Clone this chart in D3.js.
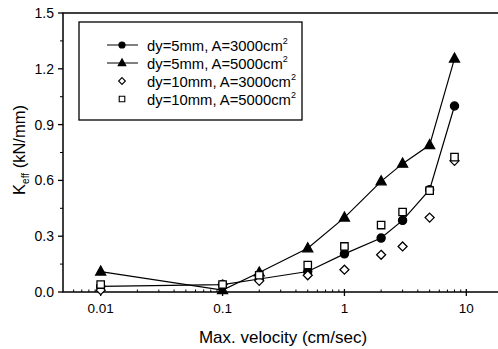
<!DOCTYPE html>
<html>
<head>
<meta charset="utf-8">
<script src="https://cdn.jsdelivr.net/npm/d3@7"></script>
<style>
  body { margin: 0; background: #fff; }
  text { font-family: "Liberation Sans", Arial, sans-serif; fill: #000; }
</style>
</head>
<body>
<div id="chart"></div>
<script>
// velocities (cm/sec)
const velocity = [0.01, 0.1, 0.2, 0.5, 1, 2, 3, 5, 8];

// K_eff (kN/mm) per test case
const keff_dy5_a3000 = [0.03, 0.04, 0.07, 0.11, 0.205, 0.29, 0.385, 0.55, 1.0];
const keff_dy5_a5000 = [0.11, 0.01, 0.105, 0.235, 0.40, 0.595, 0.69, 0.79, 1.255];
const keff_dy10_a3000 = [0.01, 0.04, 0.06, 0.09, 0.12, 0.20, 0.245, 0.40, 0.705];
const keff_dy10_a5000 = [0.04, 0.04, 0.09, 0.145, 0.245, 0.36, 0.43, 0.545, 0.725];

const xTicks = [0.01, 0.1, 1, 10];
const yTicks = [0, 0.3, 0.6, 0.9, 1.2, 1.5];

const seriesList = [
  {name: "dy=5mm, A=3000cm", vals: keff_dy5_a3000, marker: "circle", line: true},
  {name: "dy=5mm, A=5000cm", vals: keff_dy5_a5000, marker: "triangle", line: true},
  {name: "dy=10mm, A=3000cm", vals: keff_dy10_a3000, marker: "diamond", line: false},
  {name: "dy=10mm, A=5000cm", vals: keff_dy10_a5000, marker: "square", line: false}
];

const W = 498, H = 349;
const plot = {left: 63, top: 13, right: 503, bottom: 292};

const svg = d3.select("#chart").append("svg")
  .attr("width", W)
  .attr("height", H);

const x = d3.scaleLog().domain([0.005, 20]).range([plot.left + 1, plot.right]);
const y = d3.scaleLinear().domain([0, 1.5]).range([plot.bottom, plot.top]);

function markerPath(type) {
  if (type == "circle") return d3.symbol(d3.symbolCircle, 52)();
  if (type == "triangle") return "M0,-5.5L5,3.5L-5,3.5Z";
  if (type == "diamond") return "M0,-4.5L4.5,0L0,4.5L-4.5,0Z";
  return "M-3.7,-3.7H3.7V3.7H-3.7Z";
}
function markerFill(type) {
  return (type == "circle" || type == "triangle") ? "#000" : "#fff";
}

// frame
svg.append("rect")
  .attr("x", plot.left).attr("y", plot.top)
  .attr("width", plot.right - plot.left).attr("height", plot.bottom - plot.top)
  .attr("fill", "none").attr("stroke", "#000").attr("stroke-width", 1.5);

// x axis ticks
const minorX = [];
[0.001, 0.01, 0.1, 1, 10].forEach(function(d) {
  for (let k = 2; k <= 9; k++) {
    let v = d * k;
    if (v > x.domain()[0] && v < x.domain()[1]) minorX.push(v);
  }
});
svg.append("g").selectAll("line.minx").data(minorX).enter().append("line")
  .attr("x1", d => x(d)).attr("x2", d => x(d))
  .attr("y1", plot.bottom).attr("y2", plot.bottom - 2.5)
  .attr("stroke", "#000");
svg.append("g").selectAll("line.majx").data(xTicks).enter().append("line")
  .attr("x1", d => x(d)).attr("x2", d => x(d))
  .attr("y1", plot.bottom - 3).attr("y2", plot.bottom + 4)
  .attr("stroke", "#000").attr("stroke-width", 1.3);
svg.append("g").selectAll("text").data(xTicks).enter().append("text")
  .attr("x", d => x(d)).attr("y", plot.bottom + 21)
  .attr("text-anchor", "middle")
  .style("font-size", "13.5px")
  .text(d => d3.format("~g")(d));

// y axis ticks
const minorY = d3.range(0.15, 1.5, 0.3);
svg.append("g").selectAll("line.majy").data(yTicks).enter().append("line")
  .attr("x1", plot.left - 5).attr("x2", plot.left)
  .attr("y1", d => y(d)).attr("y2", d => y(d))
  .attr("stroke", "#000").attr("stroke-width", 1.3);
svg.append("g").selectAll("line.miny").data(minorY).enter().append("line")
  .attr("x1", plot.left - 3).attr("x2", plot.left)
  .attr("y1", d => y(d)).attr("y2", d => y(d))
  .attr("stroke", "#000");
svg.append("g").selectAll("text").data(yTicks).enter().append("text")
  .attr("x", plot.left - 9).attr("y", d => y(d) + 5)
  .attr("text-anchor", "end")
  .style("font-size", "14px")
  .text(d => d3.format(".1f")(d));

// axis titles
svg.append("text")
  .attr("x", 283).attr("y", 343)
  .attr("text-anchor", "middle")
  .style("font-size", "17px")
  .text("Max. velocity (cm/sec)");

const yt = svg.append("text")
  .attr("transform", "translate(25,150) rotate(-90)")
  .attr("text-anchor", "middle")
  .style("font-size", "16.5px");
yt.append("tspan").text("K");
yt.append("tspan").attr("dy", 4).style("font-size", "10px").text("eff");
yt.append("tspan").attr("dy", -4).text(" (kN/mm)");

// lines
const lineGen = d3.line().x(d => x(d[0])).y(d => y(d[1]));
seriesList.filter(s => s.line).forEach(function(s) {
  svg.append("path")
    .datum(d3.zip(velocity, s.vals))
    .attr("d", lineGen)
    .attr("fill", "none")
    .attr("stroke", "#000")
    .attr("stroke-width", 1.2);
});

// markers (open ones drawn last)
[seriesList[1], seriesList[0], seriesList[2], seriesList[3]].forEach(function(s) {
  svg.append("g").selectAll("path").data(d3.zip(velocity, s.vals)).enter().append("path")
    .attr("transform", d => "translate(" + x(d[0]) + "," + y(d[1]) + ")")
    .attr("d", markerPath(s.marker))
    .attr("fill", markerFill(s.marker))
    .attr("stroke", "#000")
    .attr("stroke-width", 1.3);
});

// legend
const legend = svg.append("g");
legend.append("rect")
  .attr("x", 79).attr("y", 22).attr("width", 223).attr("height", 98)
  .attr("fill", "#fff").attr("stroke", "#000").attr("stroke-width", 1.3);
seriesList.forEach(function(s, i) {
  const ly = 45 + i * 18;
  if (s.line) {
    legend.append("line")
      .attr("x1", 107).attr("x2", 138).attr("y1", ly).attr("y2", ly)
      .attr("stroke", "#000");
  }
  legend.append("path")
    .attr("transform", "translate(122," + ly + ") scale(0.75)")
    .attr("d", markerPath(s.marker))
    .attr("fill", markerFill(s.marker))
    .attr("stroke", "#000")
    .attr("stroke-width", 1.5);
  const t = legend.append("text")
    .attr("x", 147).attr("y", ly + 5.5)
    .style("font-size", "14.8px");
  t.append("tspan").text(s.name);
  t.append("tspan").attr("dy", -7).style("font-size", "9px").text("2");
});
</script>
</body>
</html>
